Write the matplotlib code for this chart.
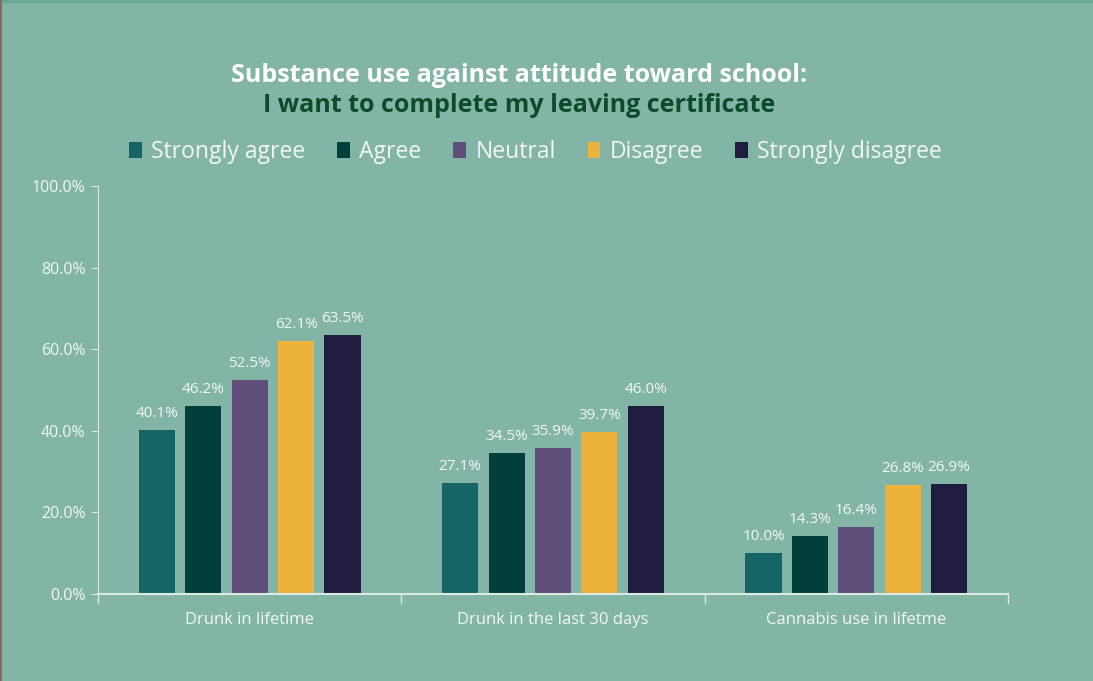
import matplotlib
matplotlib.use("Agg")
import matplotlib.pyplot as plt
import numpy as np
from matplotlib.lines import Line2D

categories = ["Drunk in lifetime", "Drunk in the last 30 days", "Cannabis use in lifetme"]
series_names = ["Strongly agree", "Agree", "Neutral", "Disagree", "Strongly disagree"]
strongly_agree = [40.1, 27.1, 10.0]
agree = [46.2, 34.5, 14.3]
neutral = [52.5, 35.9, 16.4]
disagree = [62.1, 39.7, 26.8]
strongly_disagree = [63.5, 46.0, 26.9]
yticks = [0, 20, 40, 60, 80, 100]

series = [strongly_agree, agree, neutral, disagree, strongly_disagree]
colors = ["#156466", "#033F3A", "#5F4E7A", "#EBB23C", "#201C40"]
bg = "#82B5A6"
txt = "#F2F7F5"
axc = "#DCEAE5"

plt.rcParams['font.family'] = ['Open Sans', 'DejaVu Sans']

fig = plt.figure(figsize=(10.93, 6.81), dpi=100, facecolor=bg)
ax = fig.add_axes([98/1093, 1-594/681, 910/1093, 408/681])
ax.set_facecolor(bg)

x = np.arange(len(categories))
w = 0.119
step = 0.153
for i, (vals, c) in enumerate(zip(series, colors)):
    pos = x + (i - 2) * step
    ax.bar(pos, vals, width=w, color=c, label=series_names[i], zorder=2)
    for xb, v in zip(pos, vals):
        ax.text(xb, v + 2.2, f"{v:.1f}%", ha="center", va="bottom",
                color=txt, fontsize=11)

ax.set_xlim(-0.5, 2.5)
ax.set_ylim(0, 100)
ax.set_yticks(yticks)
ax.set_yticklabels([f"{v:.1f}%" for v in yticks], color=txt, fontsize=11.5)
ax.set_xticks(x)
ax.set_xticklabels(categories, color=txt, fontsize=12)
ax.tick_params(axis="x", length=0, pad=13)
ax.tick_params(axis="y", length=5, color=axc, pad=4)
ax.set_xticks([-0.5, 0.5, 1.5, 2.5], minor=True)
ax.tick_params(axis="x", which="minor", length=7, color=axc, width=1)
for s in ["top", "right"]:
    ax.spines[s].set_visible(False)
ax.spines["left"].set_color(axc)
ax.spines["bottom"].set_color(axc)
ax.spines["bottom"].set_linewidth(1.5)

fig.text(519/1093, 1-75/681, "Substance use against attitude toward school:",
         ha="center", va="center", color="white", fontsize=18, fontweight="bold")
fig.text(519/1093, 1-105/681, "I want to complete my leaving certificate",
         ha="center", va="center", color="#0F4A2A", fontsize=18, fontweight="bold")

fig.legend(loc="center", bbox_to_anchor=(0.49, 1-152/681), ncol=5,
           frameon=False, fontsize=16.5, handlelength=0.55, handleheight=0.7,
           handletextpad=0.4, columnspacing=1.4, labelcolor=txt)

fig.add_artist(Line2D([0, 1], [0.998, 0.998], color="#6AA896", lw=3, transform=fig.transFigure))
fig.add_artist(Line2D([0.001, 0.001], [0, 1], color="#8A6A5A", lw=1.5, transform=fig.transFigure))

fig.savefig("out.png", dpi=100, facecolor=bg)
